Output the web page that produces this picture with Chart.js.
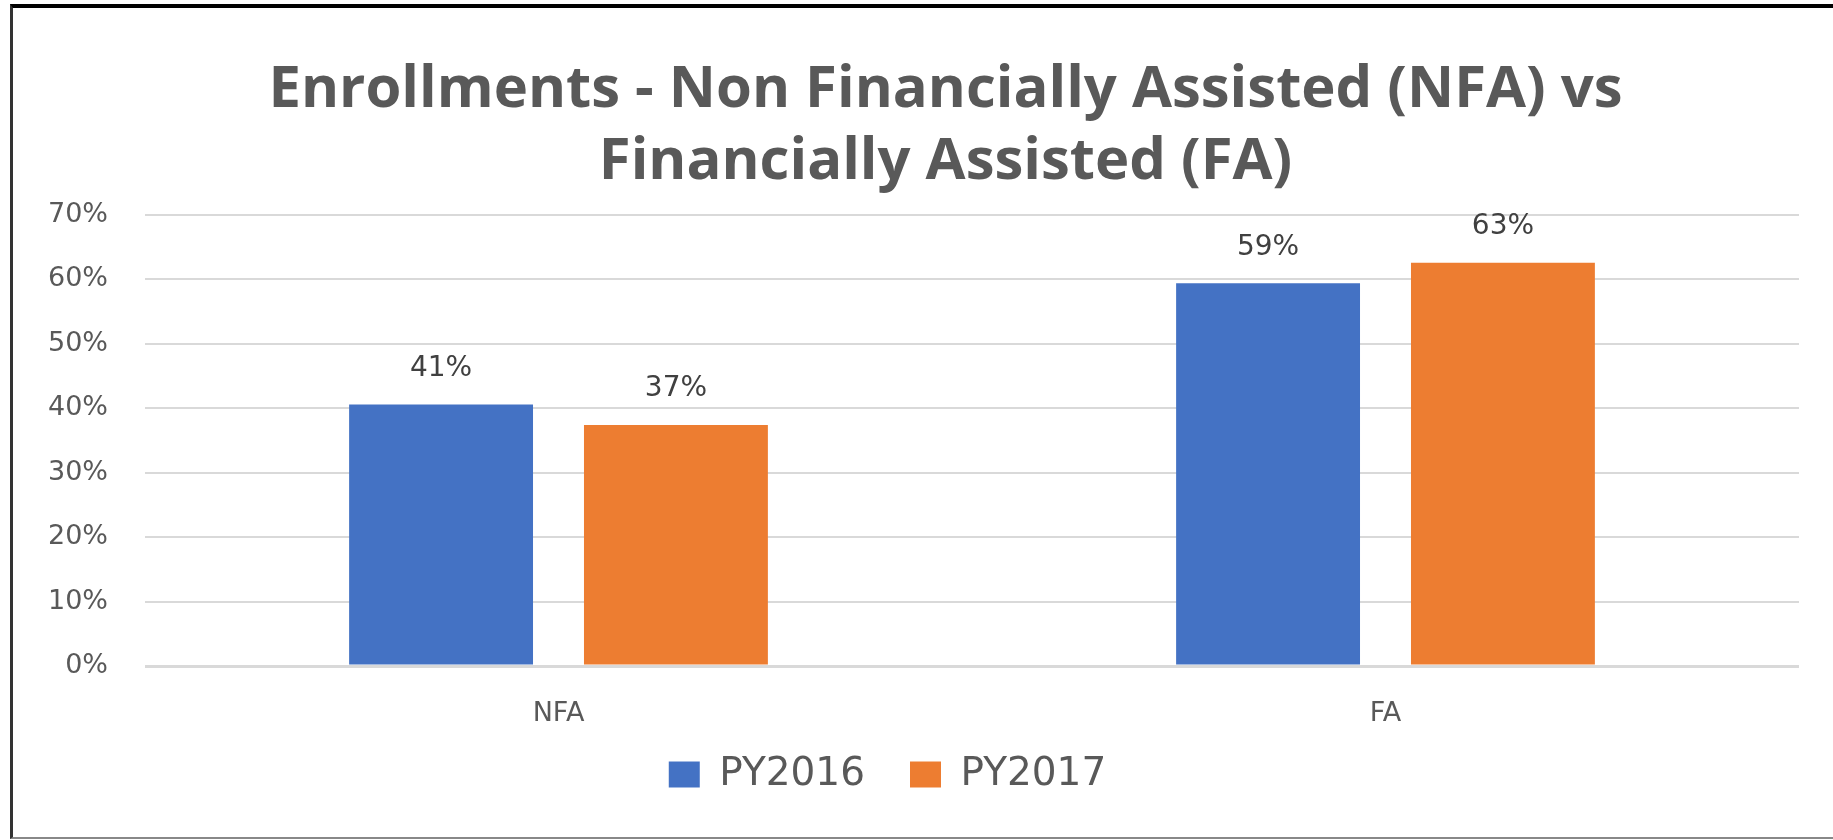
<!DOCTYPE html>
<html>
<head>
<meta charset="utf-8">
<script src="https://cdn.jsdelivr.net/npm/chart.js@4.4.0/dist/chart.umd.min.js"></script>
<style>
  html, body { margin: 0; padding: 0; background: #fff; overflow: hidden; }
  #wrap { position: relative; width: 1833px; height: 840px; }
  #frame {
    position: absolute; left: 10px; top: 4px; right: -10px; bottom: 1px;
    border-top: 4px solid #000; border-left: 3px solid #333; border-bottom: 2px solid #888;
  }
  #box { position: absolute; left: 0; top: 0; width: 1833px; height: 840px; }
</style>
</head>
<body>
<div id="wrap">
  <div id="frame"></div>
  <div id="box"><canvas id="myChart"></canvas></div>
</div>
<script>
// chart data
const categories = ["NFA", "FA"];
const seriesNames = ["PY2016", "PY2017"];
const py2016 = [40.6, 59.4];
const py2017 = [37.4, 62.6];
const yMax = 70;
const yStep = 10;

const titleLines = ["Enrollments - Non Financially Assisted (NFA) vs", "Financially Assisted (FA)"];

const textGray = "#595959";

// percent labels above the bars
const barLabels = {
  id: "barLabels",
  afterDatasetsDraw(chart) {
    const ctx = chart.ctx;
    ctx.save();
    ctx.font = "28px 'DejaVu Sans'";
    ctx.fillStyle = "#404040";
    ctx.textAlign = "center";
    ctx.textBaseline = "middle";
    chart.data.datasets.forEach((ds, i) => {
      chart.getDatasetMeta(i).data.forEach((bar, j) => {
        ctx.fillText(Math.round(ds.data[j]) + "%", bar.x, bar.y - 36);
      });
    });
    ctx.restore();
  },
};

// title and legend are not centred on the same line in the original
const shiftBoxes = {
  id: "shiftBoxes",
  afterLayout(chart) {
    chart.titleBlock.left += 46;
    chart.titleBlock.right += 46;
    chart.legend.left -= 12;
    chart.legend.right -= 12;
    chart.legend.top -= 34;
    chart.legend.bottom -= 34;
  },
};

const ctx = document.getElementById("myChart");

new Chart(ctx, {
  type: "bar",
  data: {
    labels: categories,
    datasets: [
      {
        label: seriesNames[0],
        data: py2016,
        backgroundColor: "#4472C4",
        borderWidth: 0,
        categoryPercentage: 0.568,
        barPercentage: 0.783,
      },
      {
        label: seriesNames[1],
        data: py2017,
        backgroundColor: "#ED7D31",
        borderWidth: 0,
        categoryPercentage: 0.568,
        barPercentage: 0.783,
      },
    ],
  },
  options: {
    responsive: true,
    maintainAspectRatio: false,
    animation: false,
    layout: { padding: { left: 0, right: 34, top: 0, bottom: 2 } },
    plugins: {
      title: {
        display: true,
        text: titleLines,
        color: textGray,
        font: { family: "'Open Sans'", size: 58, weight: "bold", lineHeight: 72 / 58 },
        padding: { top: 54, bottom: 17 },
      },
      legend: {
        position: "bottom",
        labels: {
          color: textGray,
          font: { family: "'DejaVu Sans'", size: 39 },
          boxWidth: 31,
          boxHeight: 26,
          padding: 45,
        },
      },
      tooltip: { enabled: false },
    },
    scales: {
      x: {
        grid: { display: false, drawTicks: false },
        border: { display: false },
        ticks: {
          color: textGray,
          font: { family: "'DejaVu Sans'", size: 27 },
          padding: 32,
        },
        afterFit(scale) {
          scale.height = 78;
        },
      },
      y: {
        min: 0,
        max: yMax,
        grid: {
          color: "#d9d9d9",
          lineWidth: (c) => (c.tick && c.tick.value === 0 ? 3 : 2),
          drawTicks: false,
        },
        border: { display: false },
        ticks: {
          stepSize: yStep,
          color: textGray,
          font: { family: "'DejaVu Sans'", size: 27 },
          padding: 37,
          callback: (v) => v + "%",
        },
        afterFit(scale) {
          scale.width = 145;
        },
      },
    },
  },
  plugins: [barLabels, shiftBoxes],
});
</script>
</body>
</html>
